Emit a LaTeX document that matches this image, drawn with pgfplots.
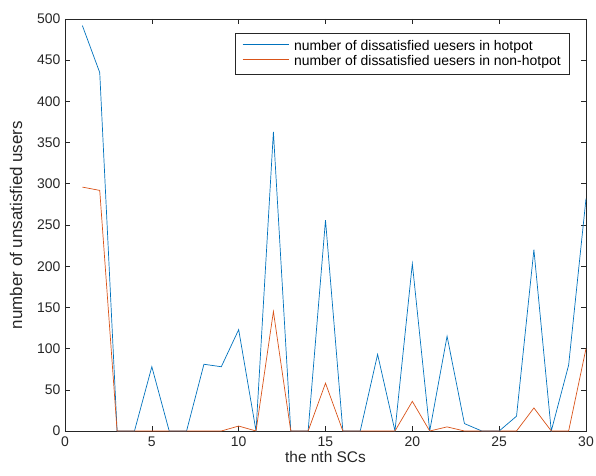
\documentclass[border=0pt]{standalone}
\usepackage{fontspec}
\setmainfont{Liberation Sans}
\usepackage{pgfplots}
\pgfplotsset{compat=1.18}
\definecolor{mblue}{rgb}{0,0.447,0.741}
\definecolor{morange}{rgb}{0.85,0.325,0.098}
\definecolor{axgray}{rgb}{0.15,0.15,0.15}
\begin{document}
\begin{tikzpicture}
\begin{axis}[
  name=ax,
  scale only axis,
  width=521bp, height=412bp,
  xmin=0, xmax=30, ymin=0, ymax=500,
  xtick={0,5,...,30}, ytick={0,50,...,500},
  tick align=inside,
  major tick length=5bp,
  axis line style={axgray, line width=0.6pt},
  tick style={axgray, line width=0.6pt},
  ticklabel style={font=\fontsize{14}{16}\selectfont, text=axgray},
  xticklabel style={yshift=-2bp},
  yticklabel style={xshift=-1bp},
  /pgf/number format/assume math mode=true,
  xlabel={the nth SCs},
  ylabel={number of unsatisfied users},
  xlabel style={font=\fontsize{15.5}{17}\selectfont, text=axgray, yshift=2bp},
  ylabel style={font=\fontsize{17}{19}\selectfont, text=axgray, yshift=8bp},
  legend style={
    at={([xshift=-16bp,yshift=-14bp]rel axis cs:1,1)}, anchor=north east,
    draw=axgray, line width=0.6pt,
    font=\fontsize{14}{16}\selectfont,
    inner xsep=7bp, inner ysep=5bp,
    row sep=0bp, column sep=3bp,
  },
  legend cell align=left,
  legend image code/.code={%
    \draw[#1] (0bp,2bp) -- (46bp,2bp);},
]
\addplot[mblue, line width=0.7pt] coordinates {
 (1,492) (2,435) (3,0) (4,0) (5,78) (6,0) (7,0) (8,81) (9,78) (10,123)
 (11,0) (12,363) (13,0) (14,0) (15,256) (16,0) (17,0) (18,93) (19,0) (20,203)
 (21,0) (22,115) (23,9) (24,0) (25,0) (26,18) (27,220) (28,0) (29,80) (30,282)
};
\addlegendentry{number of dissatisfied uesers in hotpot}
\addplot[morange, line width=0.7pt] coordinates {
 (1,296) (2,292) (3,0) (4,0) (5,0) (6,0) (7,0) (8,0) (9,0) (10,6)
 (11,0) (12,145) (13,0) (14,0) (15,58) (16,0) (17,0) (18,0) (19,0) (20,36)
 (21,0) (22,5) (23,0) (24,0) (25,0) (26,0) (27,28) (28,0) (29,0) (30,100)
};
\addlegendentry{number of dissatisfied uesers in non-hotpot}
\end{axis}
\pgfresetboundingbox
\path ([xshift=-65bp,yshift=-45bp]ax.south west) rectangle ([xshift=10bp,yshift=19bp]ax.north east);
\end{tikzpicture}
\end{document}
